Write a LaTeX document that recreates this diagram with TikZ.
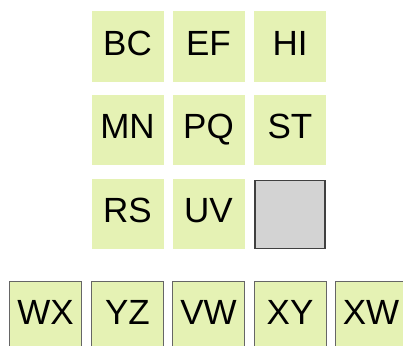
\documentclass[tikz,border=0pt]{standalone}
\usepackage{fontspec}
\setmainfont{Liberation Sans}
\usetikzlibrary{positioning}
\definecolor{cellgreen}{RGB}{229,242,180}
\definecolor{cellgray}{RGB}{211,211,211}

\begin{document}
\begin{tikzpicture}[x=1pt,y=-1pt,
every node/.style={rectangle,minimum width=72pt,minimum height=70pt,inner sep=0pt,
text height=25pt,text depth=8pt,fill=cellgreen,font=\fontsize{35}{40}\selectfont},
framed/.style={draw=black!60,line width=1pt}]
\useasboundingbox (0,0) rectangle (403,345);
\clip (0,0) rectangle (403,345);
\node (BC) at (127.5,46.5) {BC};
\node (EF) at (208.5,46.5) {EF};
\node (HI) at (290,46.5) {HI};
\node (MN) at (127.5,130) {MN};
\node (PQ) at (208.5,130) {PQ};
\node (ST) at (290,130) {ST};
\node (RS) at (127.5,214.3) {RS};
\node (UV) at (208.5,214.3) {UV};
\node[fill=cellgray,draw=black!75,line width=1.3pt,minimum width=70pt,minimum height=68pt] (E) at (290,214.3) {};
\node[framed] (WX) at (45.5,316) {WX};
\node[framed] (YZ) at (127.5,316) {YZ};
\node[framed] (VW) at (208.5,316) {VW};
\node[framed] (XY) at (290,316) {XY};
\node[framed] (XW) at (371,316) {XW};
\end{tikzpicture}
\end{document}
